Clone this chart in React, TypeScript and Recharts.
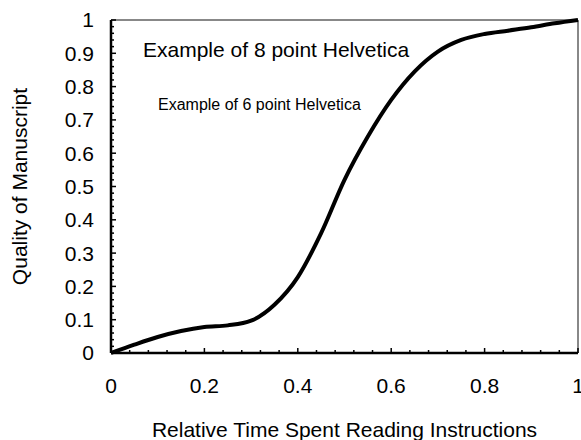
import { LineChart, Line, XAxis, YAxis, ReferenceLine, Label } from "recharts";

// time spent (fraction) and manuscript quality
const timeSpent = [0, 0.05, 0.1, 0.15, 0.2, 0.25, 0.3, 0.35, 0.4, 0.45, 0.5, 0.55, 0.6, 0.65, 0.7, 0.75, 0.8, 0.85, 0.9, 0.95, 1];
const quality = [0, 0.025, 0.048, 0.066, 0.078, 0.083, 0.097, 0.145, 0.228, 0.36, 0.52, 0.65, 0.76, 0.845, 0.905, 0.94, 0.958, 0.968, 0.978, 0.99, 1];

const xMajorTicks = [0, 0.2, 0.4, 0.6, 0.8, 1];
const yMajorTicks = [0, 0.1, 0.2, 0.3, 0.4, 0.5, 0.6, 0.7, 0.8, 0.9, 1];

const FONT = "'Liberation Sans', Arial, Helvetica, sans-serif";

// add the small unlabelled ticks between the labelled ones
function withMinor(major: number[], parts: number) {
  const out: number[] = [];
  for (let i = 0; i < major.length - 1; i++) {
    const step = (major[i + 1] - major[i]) / parts;
    for (let k = 0; k < parts; k++) out.push(Math.round((major[i] + k * step) * 1000) / 1000);
  }
  out.push(major[major.length - 1]);
  return out;
}

const xTicks = withMinor(xMajorTicks, 5);
const yTicks = withMinor(yMajorTicks, 5);

const isMajor = (v: number, list: number[]) => list.some((m) => Math.abs(m - v) < 1e-6);
const fmt = (v: number) => String(Math.round(v * 10) / 10);

const data = timeSpent.map((t, i) => ({ t, q: quality[i] }));

function XTick(props: any) {
  const { x, y, payload } = props;
  const major = isMajor(payload.value, xMajorTicks);
  return (
    <g>
      <line x1={x} x2={x} y1={y} y2={y - (major ? 5 : 3)} stroke="#000" strokeWidth={1.5} />
      {major && (
        <text x={x} y={y + 40} textAnchor="middle" fontFamily={FONT} fontSize={21} fill="#000">
          {fmt(payload.value)}
        </text>
      )}
    </g>
  );
}

function YTick(props: any) {
  const { x, y, payload } = props;
  const major = isMajor(payload.value, yMajorTicks);
  return (
    <g>
      <line x1={x} x2={x + (major ? 5 : 3)} y1={y} y2={y} stroke="#000" strokeWidth={1.5} />
      {major && (
        <text x={x - 17} y={y} dy="0.355em" textAnchor="end" fontFamily={FONT} fontSize={21} fill="#000">
          {fmt(payload.value)}
        </text>
      )}
    </g>
  );
}

export default function App() {
  return (
    <div style={{ position: "absolute", left: 0, top: 0, background: "#fff" }}>
      <LineChart width={581} height={440} data={data} margin={{ top: 20, right: 3, left: 0, bottom: 0 }}>
        <XAxis
          dataKey="t"
          type="number"
          domain={[0, 1]}
          ticks={xTicks}
          interval={0}
          tick={<XTick />}
          tickLine={false}
          tickSize={0}
          tickMargin={0}
          height={87}
          axisLine={{ stroke: "#000", strokeWidth: 2.5 }}
        >
          <Label
            value="Relative Time Spent Reading Instructions"
            position="insideBottom"
            offset={3}
            style={{ fontFamily: FONT, fontSize: 21, fill: "#000" }}
          />
        </XAxis>
        <YAxis
          type="number"
          domain={[0, 1]}
          ticks={yTicks}
          interval={0}
          tick={<YTick />}
          tickLine={false}
          tickSize={0}
          tickMargin={0}
          width={111}
          axisLine={{ stroke: "#000", strokeWidth: 2.5 }}
        >
          <Label
            value="Quality of Manuscript"
            angle={-90}
            position="insideLeft"
            offset={20}
            style={{ fontFamily: FONT, fontSize: 21, fill: "#000", textAnchor: "middle" }}
          />
        </YAxis>

        {/* grey frame on top and right */}
        <ReferenceLine y={1} stroke="#888" strokeWidth={2} />
        <ReferenceLine x={1} stroke="#888" strokeWidth={2} />

        <Line
          type="monotone"
          dataKey="q"
          stroke="#000"
          strokeWidth={4}
          dot={false}
          activeDot={false}
          isAnimationActive={false}
        />

        <text x={143} y={57} fontFamily={FONT} fontSize={21} fill="#000">
          Example of 8 point Helvetica
        </text>
        <text x={158} y={110} fontFamily={FONT} fontSize={16} fill="#000">
          Example of 6 point Helvetica
        </text>
      </LineChart>
    </div>
  );
}
